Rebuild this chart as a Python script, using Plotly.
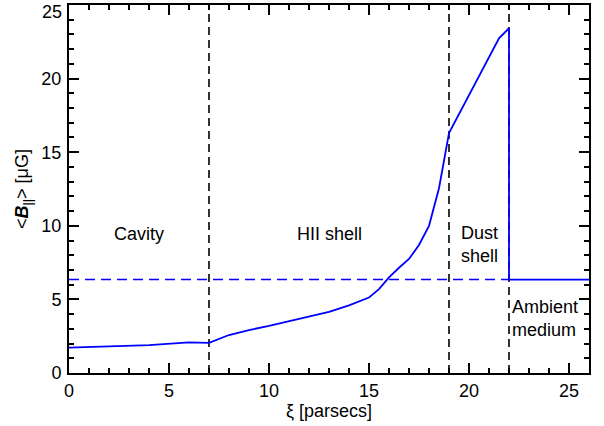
import plotly.graph_objects as go

# Data
xi = [0, 2, 4, 6, 7, 8, 9, 10, 11, 12, 13, 14, 15, 15.5, 16, 16.5, 17, 17.5, 18, 18.5, 19, 21.5, 22, 22, 26]
B = [1.72, 1.8, 1.9, 2.08, 2.05, 2.58, 2.92, 3.2, 3.5, 3.8, 4.15, 4.6, 5.13, 5.7, 6.5, 7.15, 7.75, 8.7, 10.0, 12.55, 16.3, 22.74, 23.42, 6.35, 6.35]
ambient_level = 6.35
boundaries = [7, 19, 22]
region_labels = ["Cavity", "HII shell", "Dust<br>shell", "Ambient<br>medium"]
region_x = [3.5, 13.0, 19.5, 23.8]
region_y = [9.45, 9.45, 8.75, 3.7]
region_anchor = ["center", "center", "left", "center"]
x_ticks = [0, 5, 10, 15, 20, 25]
y_ticks = [0, 5, 10, 15, 20, 25]

FONT = "Liberation Sans, Arial, Helvetica, sans-serif"
fig = go.Figure()

for b in boundaries:
    fig.add_trace(go.Scatter(x=[b, b], y=[0, 25], mode="lines",
                             line=dict(color="black", width=1.6, dash="8px,5px"),
                             showlegend=False, hoverinfo="skip"))

fig.add_trace(go.Scatter(x=[0, 22], y=[ambient_level, ambient_level], mode="lines",
                         line=dict(color="#0000ff", width=1.6, dash="10px,6px"),
                         showlegend=False, hoverinfo="skip"))

fig.add_trace(go.Scatter(x=xi, y=B, mode="lines",
                         line=dict(color="#0000ff", width=1.8),
                         showlegend=False))

for t, x, y, a in zip(region_labels, region_x, region_y, region_anchor):
    fig.add_annotation(x=x, y=y, text=t, showarrow=False, xanchor=a, align="left",
                       font=dict(family=FONT, size=18, color="black"))

# top y tick label, nudged down so it stays inside the page (as in the reference)
fig.add_annotation(xref="paper", x=0, y=y_ticks[-1], text=str(y_ticks[-1]), showarrow=False,
                   xanchor="right", yanchor="top", xshift=-5, yshift=5,
                   font=dict(family=FONT, size=18, color="black"))

axis_common = dict(showline=True, linecolor="black", linewidth=2, mirror="allticks",
                   ticks="inside", ticklen=10, tickwidth=1.5, tickcolor="black",
                   showgrid=False, zeroline=False, automargin=False,
                   ticklabeloverflow="allow",
                   tickfont=dict(family=FONT, size=18, color="black"))

fig.update_xaxes(range=[0, 26], tickmode="array", tickvals=x_ticks,
                 minor=dict(dtick=1, tick0=0, ticks="inside", ticklen=5, tickwidth=1.5, tickcolor="black"),
                 title=dict(text="ξ [parsecs]", font=dict(family=FONT, size=18, color="black"), standoff=2),
                 **axis_common)
fig.update_yaxes(range=[0, 25], tickmode="array", tickvals=y_ticks,
                 ticktext=[str(v) for v in y_ticks[:-1]] + [" "],
                 ticklabelstandoff=2,
                 minor=dict(dtick=1, tick0=0, ticks="inside", ticklen=5, tickwidth=1.5, tickcolor="black"),
                 title=dict(text="&lt;<b><i>B</i></b><sub>||</sub>&gt; [μG]",
                            font=dict(family=FONT, size=18, color="black"), standoff=8),
                 **axis_common)

fig.update_layout(width=604, height=426, margin=dict(l=69, r=15, t=5, b=53),
                  plot_bgcolor="white", paper_bgcolor="white")

fig.write_html("out.html", config={"displayModeBar": False},
               post_script="document.body.style.margin='0';document.body.style.overflow='hidden';")
